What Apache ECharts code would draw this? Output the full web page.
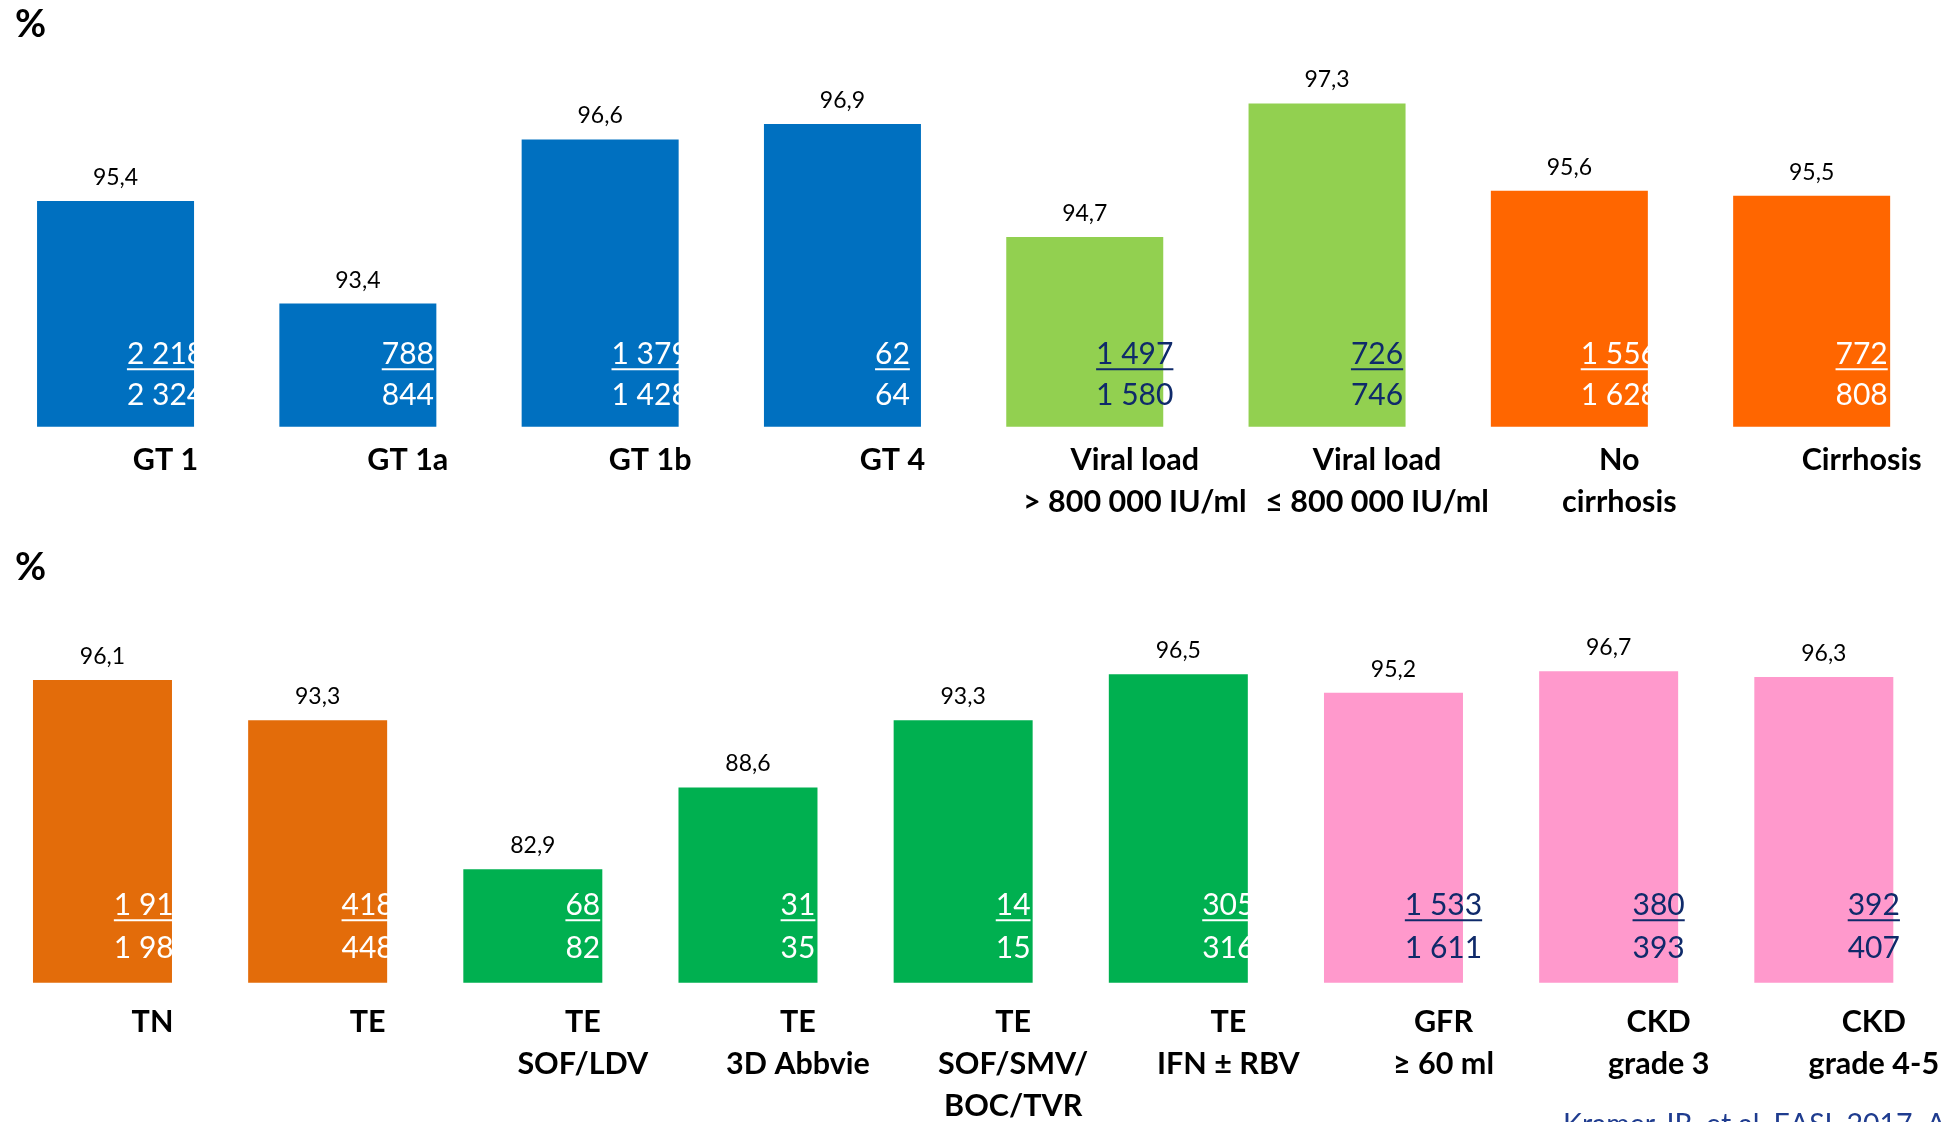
<!DOCTYPE html>
<html>
<head>
<meta charset="utf-8">
<script src="https://cdn.jsdelivr.net/npm/echarts@6/dist/echarts.min.js"></script>
<style>
  html, body { margin: 0; padding: 0; background: #ffffff; }
  #chart { width: 1941px; height: 1122px; }
</style>
</head>
<body>
<div id="chart"></div>
<script>
// Upper panel: SVR12 by genotype, viral load and cirrhosis status
const topCategories = ['GT 1', 'GT 1a', 'GT 1b', 'GT 4', 'Viral load\n> 800 000 IU/ml', 'Viral load\n≤ 800 000 IU/ml', 'No\ncirrhosis', 'Cirrhosis'];
const topSvr = [95.4, 93.4, 96.6, 96.9, 94.7, 97.3, 95.6, 95.5];
const topCured = [2218, 788, 1379, 62, 1497, 726, 1556, 772];
const topTreated = [2324, 844, 1428, 64, 1580, 746, 1628, 808];

// Lower panel: SVR12 by treatment history and renal function
const bottomCategories = ['TN', 'TE', 'TE\nSOF/LDV', 'TE\n3D Abbvie', 'TE\nSOF/SMV/\nBOC/TVR', 'TE\nIFN ± RBV', 'GFR\n≥ 60 ml', 'CKD\ngrade 3', 'CKD\ngrade 4-5'];
const bottomSvr = [96.1, 93.3, 82.9, 88.6, 93.3, 96.5, 95.2, 96.7, 96.3];
const bottomCured = [1912, 418, 68, 31, 14, 305, 1533, 380, 392];
const bottomTreated = [1989, 448, 82, 35, 15, 316, 1611, 393, 407];

// Colours, kept apart from the values
const BLUE = '#0070C0', LIME = '#92D050', ORANGE = '#FF6600';
const DARK_ORANGE = '#E36C0A', GREEN = '#00B050', PINK = '#FF99CC';
const NAVY = '#0F2A6A', WHITE = '#FFFFFF';
const topBarColors = [BLUE, BLUE, BLUE, BLUE, LIME, LIME, ORANGE, ORANGE];
const topCountColors = [WHITE, WHITE, WHITE, WHITE, NAVY, NAVY, WHITE, WHITE];
const bottomBarColors = [DARK_ORANGE, DARK_ORANGE, GREEN, GREEN, GREEN, GREEN, PINK, PINK, PINK];
const bottomCountColors = [WHITE, WHITE, WHITE, WHITE, WHITE, WHITE, NAVY, NAVY, NAVY];

const FONT = 'Lato, "Open Sans", "Noto Sans", sans-serif';
const COUNT_SIZE = 30;
const VALUE_SIZE = 23;
const CAT_SIZE = 30.5;
const LABEL_SHIFT = 50; // counts and category names sit right of the bar centre

const measureCtx = document.createElement('canvas').getContext('2d');
function textWidth(text, size) {
  measureCtx.font = size + 'px ' + FONT;
  return measureCtx.measureText(text).width;
}
function groupThousands(n) {
  return String(n).replace(/\B(?=(\d{3})+(?!\d))/g, ' ');
}
function decimalComma(v) {
  return v.toFixed(1).replace('.', ',');
}

const panels = [
  {
    categories: topCategories, svr: topSvr, cured: topCured, treated: topTreated,
    barColors: topBarColors, countColors: topCountColors,
    grid: { left: -5.6, top: 16.3, width: 1938.4, height: 410.4 },
    min: 91, max: 99, barWidth: 157, labelMargin: 12.5,
    numBase: 61, ruleY: 57.5, denBase: 20.7
  },
  {
    categories: bottomCategories, svr: bottomSvr, cured: bottomCured, treated: bottomTreated,
    barColors: bottomBarColors, countColors: bottomCountColors,
    grid: { left: -5.1, top: 624, width: 1936.5, height: 358.7 },
    min: 75, max: 100, barWidth: 139, labelMargin: 18,
    numBase: 66, ruleY: 62.5, denBase: 23.7
  }
];

const grids = [], xAxes = [], yAxes = [], series = [];
panels.forEach((pn, k) => {
  grids.push(Object.assign({ containLabel: false, outerBoundsMode: 'none' }, pn.grid));
  xAxes.push({
    type: 'category', gridIndex: k, data: pn.categories,
    axisLine: { show: false }, axisTick: { show: false }, splitLine: { show: false },
    axisLabel: {
      interval: 0, margin: pn.labelMargin, color: '#000000',
      fontFamily: FONT, fontWeight: 'bold', fontSize: CAT_SIZE, lineHeight: 42,
      align: 'center', padding: [0, 0, 0, LABEL_SHIFT * 2]
    }
  });
  yAxes.push({ type: 'value', gridIndex: k, min: pn.min, max: pn.max, show: false });
  series.push({
    type: 'bar', xAxisIndex: k, yAxisIndex: k, barWidth: pn.barWidth,
    data: pn.svr.map((v, i) => ({ value: v, itemStyle: { color: pn.barColors[i] } })),
    label: {
      show: true, position: 'top', distance: 12,
      formatter: p => decimalComma(p.value),
      fontFamily: FONT, fontSize: VALUE_SIZE, color: '#000000'
    },
    z: 2
  });
  // cured / treated counts inside each bar, numerator underlined
  series.push({
    type: 'custom', xAxisIndex: k, yAxisIndex: k, z: 5,
    data: pn.cured.map((c, i) => [i, c, pn.treated[i]]),
    renderItem: (params, api) => {
      const idx = params.dataIndex;
      const base = api.coord([idx, pn.min]);
      const cx = base[0] + LABEL_SHIFT, by = base[1];
      const num = groupThousands(api.value(1));
      const den = groupThousands(api.value(2));
      const fill = pn.countColors[idx];
      const w = textWidth(num, COUNT_SIZE);
      const txt = (t, y) => ({
        type: 'text',
        style: { text: t, x: cx, y: y, align: 'center', verticalAlign: 'bottom',
                 fontFamily: FONT, fontSize: COUNT_SIZE, fill: fill }
      });
      return {
        type: 'group',
        children: [
          txt(num, by - pn.numBase + 4),
          { type: 'rect', shape: { x: cx - w / 2, y: by - pn.ruleY - 1, width: w, height: 2 }, style: { fill: fill } },
          txt(den, by - pn.denBase + 4)
        ]
      };
    }
  });
});

const chart = echarts.init(document.getElementById('chart'), null, { renderer: 'canvas' });
chart.setOption({
  animation: false,
  backgroundColor: '#ffffff',
  grid: grids,
  xAxis: xAxes,
  yAxis: yAxes,
  series: series,
  graphic: [
    { type: 'text', left: 15, top: 6, style: { text: '%', fontFamily: FONT, fontWeight: 'bold', fontSize: 38, fill: '#000000' } },
    { type: 'text', left: 15, top: 549, style: { text: '%', fontFamily: FONT, fontWeight: 'bold', fontSize: 38, fill: '#000000' } },
    { type: 'text', left: 1563, top: 1110, style: { text: 'Kramer JR, et al. EASL 2017, Abs. PS-104', fontFamily: FONT, fontSize: 28.5, fill: '#1F3C8F' } }
  ]
});
</script>
</body>
</html>
